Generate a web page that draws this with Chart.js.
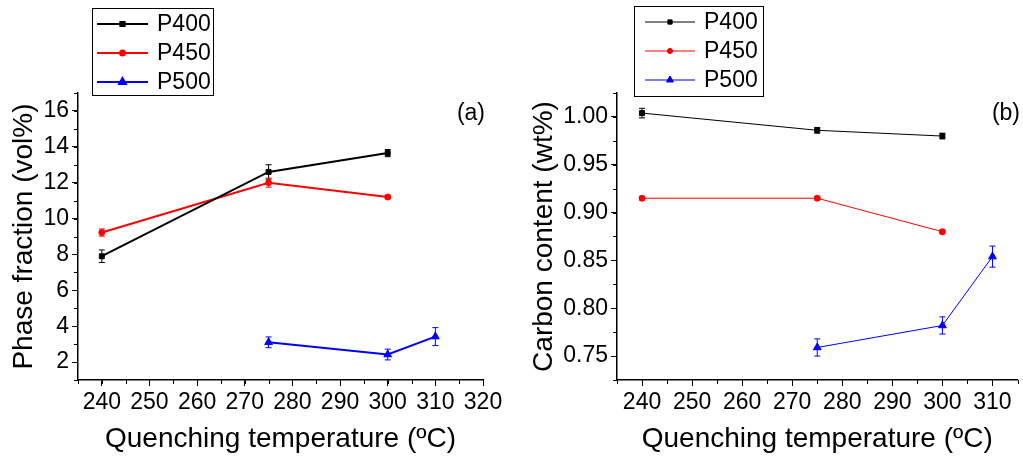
<!DOCTYPE html>
<html>
<head>
<meta charset="utf-8">
<script src="https://cdn.jsdelivr.net/npm/chart.js@4.4.1/dist/chart.umd.min.js"></script>
<style>
    body { margin: 0; background: #fff; }
    .wrap { position: relative; width: 1023px; height: 457px; }
    #phaseChart { position: absolute; left: 0; top: 0; }
    #carbonChart { position: absolute; left: 510px; top: 0; }
</style>
</head>
<body>
<div class="wrap">
    <canvas id="phaseChart" width="510" height="457"></canvas>
    <canvas id="carbonChart" width="513" height="457"></canvas>
</div>
<script>
// quenching temperatures (ºC)
const tempsP400 = [240, 275, 300];
const tempsP450 = [240, 275, 300];
const tempsP500 = [275, 300, 310];

// (a) phase fraction, vol%
const phaseP400 = [7.9, 12.6, 13.65];
const phaseP400Err = [0.35, 0.4, 0.2];
const phaseP450 = [9.22, 12.0, 11.2];
const phaseP450Err = [0.2, 0.25, 0.1];
const phaseP500 = [3.1, 2.42, 3.42];
const phaseP500Err = [0.3, 0.3, 0.5];

// (b) carbon content, wt%
const carbonP400 = [1.004, 0.986, 0.980];
const carbonP400Err = [0.005, 0.003, 0.003];
const carbonP450 = [0.915, 0.915, 0.880];
const carbonP450Err = [0.002, 0.002, 0.002];
const carbonP500 = [0.759, 0.782, 0.854];
const carbonP500Err = [0.009, 0.009, 0.011];

// tick labels
const phaseXTicks = [240, 250, 260, 270, 280, 290, 300, 310, 320];
const phaseYTicks = [2, 4, 6, 8, 10, 12, 14, 16];
const carbonXTicks = [240, 250, 260, 270, 280, 290, 300, 310];
const carbonYTicks = [0.75, 0.80, 0.85, 0.90, 0.95, 1.00];

const FONT = "'Liberation Sans', Arial, sans-serif";

function pts(xs, ys) {
    return xs.map((x, i) => ({ x: x, y: ys[i] }));
}

// error bars drawn through the y scale
const errorBars = {
    id: 'errorBars',
    afterDatasetsDraw(chart) {
        const ctx = chart.ctx;
        const yScale = chart.scales.y;
        chart.data.datasets.forEach((ds, di) => {
            if (!ds.errors) return;
            const meta = chart.getDatasetMeta(di);
            ctx.save();
            ctx.strokeStyle = ds.borderColor;
            ctx.lineWidth = 1;
            meta.data.forEach((el, i) => {
                const v = ds.data[i].y;
                const e = ds.errors[i];
                const top = yScale.getPixelForValue(v + e);
                const bot = yScale.getPixelForValue(v - e);
                ctx.beginPath();
                ctx.moveTo(el.x, top);
                ctx.lineTo(el.x, bot);
                ctx.moveTo(el.x - 3, top);
                ctx.lineTo(el.x + 3, top);
                ctx.moveTo(el.x - 3, bot);
                ctx.lineTo(el.x + 3, bot);
                ctx.stroke();
            });
            ctx.restore();
        });
    }
};

// minor ticks between the major ones
const minorTicks = {
    id: 'minorTicks',
    afterDraw(chart, args, opts) {
        const ctx = chart.ctx;
        const area = chart.chartArea;
        const xs = chart.scales.x, ys = chart.scales.y;
        ctx.save();
        ctx.strokeStyle = '#000';
        ctx.lineWidth = 1;
        ctx.beginPath();
        for (let v = xs.min; v <= xs.max + 1e-9; v += opts.xStep) {
            const p = Math.round(xs.getPixelForValue(v)) + 0.5;
            ctx.moveTo(p, area.bottom);
            ctx.lineTo(p, area.bottom + 4);
        }
        for (let v = ys.min; v <= ys.max + 1e-9; v += opts.yStep) {
            const p = Math.round(ys.getPixelForValue(v)) + 0.5;
            ctx.moveTo(area.left, p);
            ctx.lineTo(area.left - 4, p);
        }
        ctx.stroke();
        ctx.restore();
    }
};

// boxed legend with line + marker, and the panel letter
const boxLegend = {
    id: 'boxLegend',
    afterDraw(chart, args, opts) {
        const ctx = chart.ctx;
        const b = opts.box;
        ctx.save();
        ctx.fillStyle = '#fff';
        ctx.fillRect(b.x, b.y, b.w, b.h);
        ctx.strokeStyle = '#000';
        ctx.lineWidth = 1;
        ctx.strokeRect(b.x + 0.5, b.y + 0.5, b.w, b.h);
        ctx.font = '23px ' + FONT;
        ctx.textBaseline = 'middle';
        chart.data.datasets.forEach((ds, i) => {
            const y = b.y + 16 + i * 29;
            ctx.strokeStyle = ds.borderColor;
            ctx.lineWidth = ds.borderWidth;
            ctx.beginPath();
            ctx.moveTo(b.x + opts.lineStart, y);
            ctx.lineTo(b.x + opts.lineStart + opts.lineLen, y);
            ctx.stroke();
            Chart.helpers.drawPoint(ctx, {
                pointStyle: ds.pointStyle, radius: ds.pointRadius - 0.5, borderWidth: 1
            }, b.x + opts.lineStart + opts.lineLen / 2, y);
            ctx.fillStyle = ds.borderColor;
            ctx.fill();
            ctx.fillStyle = '#000';
            ctx.fillText(ds.label, b.x + opts.textStart, y + 1);
        });
        ctx.font = '23px ' + FONT;
        ctx.textAlign = 'right';
        ctx.fillText(opts.tag, opts.tagX, opts.tagY);
        ctx.restore();
    }
};

function series(label, color, style, radius, xs, ys, errs, width) {
    return {
        label: label,
        data: pts(xs, ys),
        errors: errs,
        borderColor: color,
        backgroundColor: color,
        borderWidth: width,
        pointStyle: style,
        pointRadius: radius,
        pointBorderWidth: 1,
        pointHoverRadius: radius,
        tension: 0
    };
}

function axisOpts(min, max, ticks, title, isY, fixSize, titlePad, fmt) {
    return {
        type: 'linear',
        min: min,
        max: max,
        afterBuildTicks: axis => { axis.ticks = ticks.map(v => ({ value: v })); },
        afterFit: scale => { if (isY) scale.width = fixSize; else scale.height = fixSize; },
        border: { color: '#000', width: 1.5 },
        grid: { drawOnChartArea: false, drawTicks: true, tickLength: 6, color: '#000', lineWidth: 1 },
        ticks: {
            color: '#000',
            padding: 3,
            maxRotation: 0,
            autoSkip: false,
            font: { family: FONT, size: 23 },
            callback: fmt
        },
        title: {
            display: true,
            text: title,
            color: '#000',
            font: { family: FONT, size: 28 },
            padding: titlePad
        }
    };
}

function baseOptions(pad, scales, legendOpts, minorOpts) {
    return {
        responsive: false,
        animation: false,
        devicePixelRatio: 1,
        layout: { padding: pad },
        plugins: {
            legend: { display: false },
            tooltip: { enabled: false },
            boxLegend: legendOpts,
            minorTicks: minorOpts
        },
        scales: scales
    };
}

new Chart(document.getElementById('phaseChart').getContext('2d'), {
    type: 'line',
    data: {
        datasets: [
            series('P400', '#000000', 'rect', 3.5, tempsP400, phaseP400, phaseP400Err, 2),
            series('P450', '#ff0000', 'circle', 3, tempsP450, phaseP450, phaseP450Err, 2),
            series('P500', '#0000ff', 'triangle', 4.5, tempsP500, phaseP500, phaseP500Err, 2)
        ]
    },
    options: baseOptions(
        { top: 93, right: 27, left: 0, bottom: 0 },
        {
            x: axisOpts(235, 320, phaseXTicks, 'Quenching temperature (ºC)', false, 77, { top: 4, bottom: 1 }),
            y: axisOpts(1, 17, phaseYTicks, 'Phase fraction (vol%)', true, 78, { top: 7, bottom: 4 })
        },
        { box: { x: 92, y: 8, w: 121, h: 87 }, lineStart: 5, lineLen: 51, textStart: 65, tag: '(a)', tagX: 485, tagY: 114 },
        { xStep: 5, yStep: 1 }
    ),
    plugins: [errorBars, minorTicks, boxLegend]
});

new Chart(document.getElementById('carbonChart').getContext('2d'), {
    type: 'line',
    data: {
        datasets: [
            series('P400', '#000000', 'rect', 3.5, tempsP400, carbonP400, carbonP400Err, 1),
            series('P450', '#ff0000', 'circle', 3, tempsP450, carbonP450, carbonP450Err, 1),
            series('P500', '#0000ff', 'triangle', 4.5, tempsP500, carbonP500, carbonP500Err, 1)
        ]
    },
    options: baseOptions(
        { top: 93, right: 1, left: 0, bottom: 0 },
        {
            x: axisOpts(235, 315, carbonXTicks, 'Quenching temperature (ºC)', false, 77, { top: 4, bottom: 1 }),
            y: axisOpts(0.725, 1.025, carbonYTicks, 'Carbon content (wt%)', true, 107, { top: 17, bottom: 4 },
                v => v.toFixed(2))
        },
        { box: { x: 124, y: 6, w: 129, h: 90 }, lineStart: 11, lineLen: 50, textStart: 70, tag: '(b)', tagX: 510, tagY: 114 },
        { xStep: 5, yStep: 0.025 }
    ),
    plugins: [errorBars, minorTicks, boxLegend]
});
</script>
</body>
</html>
